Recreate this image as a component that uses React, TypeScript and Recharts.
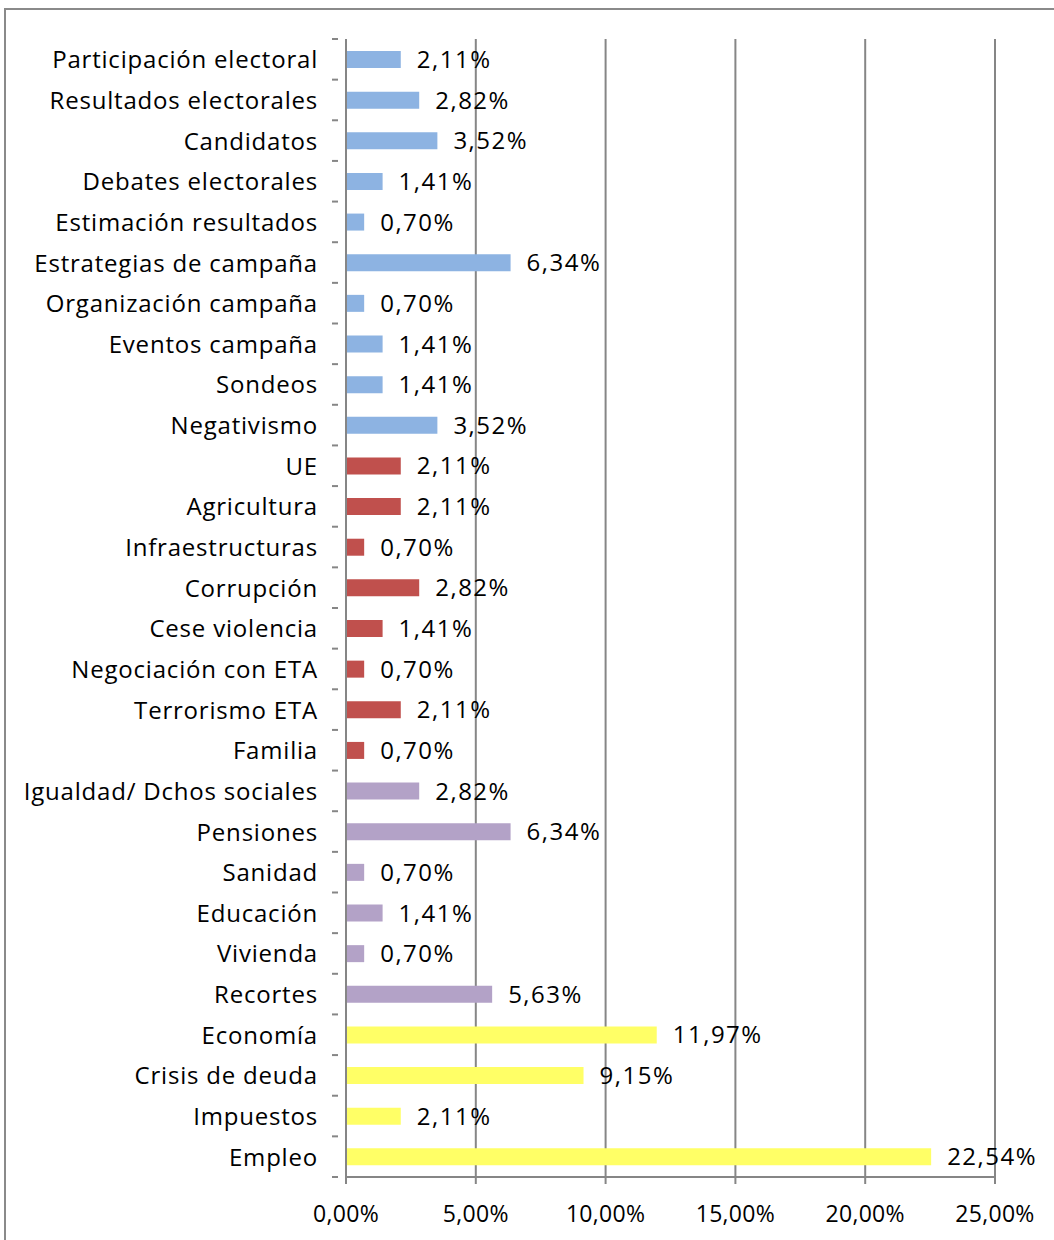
import { BarChart, Bar, XAxis, YAxis, CartesianGrid, Cell, LabelList } from 'recharts';

const categories = [
  'Participación electoral', 'Resultados electorales', 'Candidatos', 'Debates electorales',
  'Estimación resultados', 'Estrategias de campaña', 'Organización campaña', 'Eventos campaña',
  'Sondeos', 'Negativismo', 'UE', 'Agricultura', 'Infraestructuras', 'Corrupción',
  'Cese violencia', 'Negociación con ETA', 'Terrorismo ETA', 'Familia',
  'Igualdad/ Dchos sociales', 'Pensiones', 'Sanidad', 'Educación', 'Vivienda', 'Recortes',
  'Economía', 'Crisis de deuda', 'Impuestos', 'Empleo',
];

const values = [
  2.11, 2.82, 3.52, 1.41, 0.70, 6.34, 0.70, 1.41, 1.41, 3.52,
  2.11, 2.11, 0.70, 2.82, 1.41, 0.70, 2.11, 0.70,
  2.82, 6.34, 0.70, 1.41, 0.70, 5.63,
  11.97, 9.15, 2.11, 22.54,
];

// group index per category: 0 campaña, 1 política, 2 social, 3 economía
const groups = [
  0, 0, 0, 0, 0, 0, 0, 0, 0, 0,
  1, 1, 1, 1, 1, 1, 1, 1,
  2, 2, 2, 2, 2, 2,
  3, 3, 3, 3,
];

const groupColors = ['#8DB3E2', '#C0504D', '#B3A2C7', '#FFFF66'];

const xTicks = [0, 5, 10, 15, 20, 25];

const data = categories.map((name, i) => ({ name, value: values[i], group: groups[i] }));

const FONT = '"Open Sans", sans-serif';
const W = 1054;
const H = 1240;
const M = { top: 39, right: 59, bottom: 0, left: 0 };
const Y_AXIS_W = 346;
const X_AXIS_H = 63;
const band = (H - M.top - M.bottom - X_AXIS_H) / categories.length;

const pct = (v: number) => v.toFixed(2).replace('.', ',') + '%';

function CategoryTick(props: any) {
  const { x, y, payload, index } = props;
  return (
    <g>
      <text
        x={x - 20}
        y={y}
        dy={9}
        textAnchor="end"
        fontSize={24}
        letterSpacing={0.8}
        fontFamily={FONT}
        fill="#000"
      >
        {payload.value}
      </text>
      <line x1={x - 6} x2={x} y1={y - band / 2} y2={y - band / 2} stroke="#868686" strokeWidth={2} />
      {index === categories.length - 1 && (
        <line x1={x - 6} x2={x} y1={y + band / 2} y2={y + band / 2} stroke="#868686" strokeWidth={2} />
      )}
    </g>
  );
}

export default function App() {
  return (
    <div style={{ position: 'absolute', left: 0, top: 0, width: W, height: H, overflow: 'hidden', background: '#fff' }}>
      <div
        style={{
          position: 'absolute',
          left: 4,
          top: 8,
          width: W + 40,
          height: H + 40,
          border: '2px solid #8a8a8a',
        }}
      />
      <div style={{ position: 'absolute', left: 0, top: 0 }}>
        <BarChart width={W} height={H} data={data} layout="vertical" margin={M} barSize={17}>
          <CartesianGrid horizontal={false} stroke="#868686" strokeWidth={2} />
          <XAxis
            type="number"
            domain={[0, 25]}
            ticks={xTicks}
            height={X_AXIS_H}
            tickFormatter={(v: number) => pct(v)}
            tick={{ fontSize: 23, fontFamily: FONT, fill: '#000', dy: 20, letterSpacing: 0.3 }}
            stroke="#868686"
            strokeWidth={2}
            tickSize={7}
            interval={0}
          />
          <YAxis
            type="category"
            dataKey="name"
            width={Y_AXIS_W}
            tick={<CategoryTick />}
            tickLine={false}
            stroke="#868686"
            strokeWidth={2}
            interval={0}
          />
          <Bar dataKey="value" isAnimationActive={false}>
            {data.map((d, i) => (
              <Cell key={i} fill={groupColors[d.group]} />
            ))}
            <LabelList
              dataKey="value"
              position="right"
              offset={16}
              formatter={(v: any) => pct(Number(v))}
              style={{ fontSize: 24, fontFamily: FONT, fill: '#000', letterSpacing: 1.5 }}
            />
          </Bar>
        </BarChart>
      </div>
    </div>
  );
}
